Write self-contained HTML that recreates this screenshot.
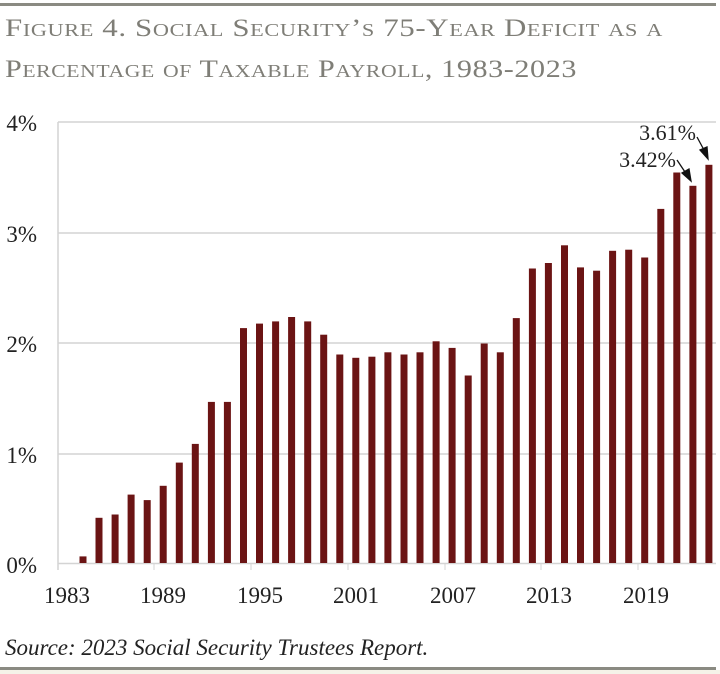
<!DOCTYPE html>
<html><head><meta charset="utf-8"><style>
html,body{margin:0;padding:0;background:#fff;}
svg{display:block;}
</style></head><body>
<svg width="720" height="674" viewBox="0 0 720 674" xmlns="http://www.w3.org/2000/svg">
<rect x="0" y="0" width="720" height="674" fill="#fff"/>
<rect x="0" y="3" width="716" height="3" fill="#8a8a82"/>
<g font-family="Liberation Serif, serif" fill="#7f7e77" font-size="25" style="font-variant:small-caps;letter-spacing:0.5px">
<text x="5" y="36" textLength="658" lengthAdjust="spacingAndGlyphs">Figure 4. Social Security’s 75-Year Deficit as a</text>
<text x="5" y="77" textLength="572" lengthAdjust="spacingAndGlyphs">Percentage of Taxable Payroll, 1983-2023</text>
</g>
<g stroke="#d4d4d4" stroke-width="1.5">
<line x1="58" y1="122" x2="716" y2="122"/>
<line x1="58" y1="233" x2="716" y2="233"/>
<line x1="58" y1="343" x2="716" y2="343"/>
<line x1="58" y1="454" x2="716" y2="454"/>
<line x1="58" y1="563.5" x2="716" y2="563.5"/>
<line x1="58" y1="122" x2="58" y2="570"/>
</g>
<g stroke="#d4d4d4" stroke-width="1">
<line x1="154" y1="563" x2="154" y2="570"/><line x1="251" y1="563" x2="251" y2="570"/>
<line x1="348" y1="563" x2="348" y2="570"/><line x1="445" y1="563" x2="445" y2="570"/>
<line x1="541" y1="563" x2="541" y2="570"/><line x1="638" y1="563" x2="638" y2="570"/>
</g>
<g font-family="Liberation Serif, serif" font-size="23" fill="#222" text-anchor="end">
<text x="37" y="131">4%</text><text x="37" y="242">3%</text><text x="37" y="352">2%</text><text x="37" y="463">1%</text><text x="37" y="573">0%</text>
</g>
<g font-family="Liberation Serif, serif" font-size="23" fill="#222" text-anchor="middle">
<text x="67" y="603">1983</text><text x="163" y="603">1989</text><text x="260" y="603">1995</text><text x="356" y="603">2001</text><text x="453" y="603">2007</text><text x="549" y="603">2013</text><text x="646" y="603">2019</text>
</g>
<g fill="#6b1414">
<rect x="79.5" y="556.4" width="7" height="6.6"/>
<rect x="95.5" y="517.8" width="7" height="45.2"/>
<rect x="111.6" y="514.5" width="7" height="48.5"/>
<rect x="127.6" y="494.6" width="7" height="68.4"/>
<rect x="143.7" y="500.1" width="7" height="62.9"/>
<rect x="159.7" y="485.8" width="7" height="77.2"/>
<rect x="175.8" y="462.6" width="7" height="100.4"/>
<rect x="191.8" y="443.9" width="7" height="119.1"/>
<rect x="207.9" y="401.9" width="7" height="161.1"/>
<rect x="223.9" y="401.9" width="7" height="161.1"/>
<rect x="240.0" y="328.1" width="7" height="234.9"/>
<rect x="256.0" y="323.6" width="7" height="239.4"/>
<rect x="272.1" y="321.4" width="7" height="241.6"/>
<rect x="288.1" y="317.0" width="7" height="246.0"/>
<rect x="304.2" y="321.4" width="7" height="241.6"/>
<rect x="320.2" y="334.7" width="7" height="228.3"/>
<rect x="336.3" y="354.5" width="7" height="208.5"/>
<rect x="352.3" y="357.8" width="7" height="205.2"/>
<rect x="368.4" y="356.7" width="7" height="206.3"/>
<rect x="384.4" y="352.3" width="7" height="210.7"/>
<rect x="400.5" y="354.5" width="7" height="208.5"/>
<rect x="416.5" y="352.3" width="7" height="210.7"/>
<rect x="432.6" y="341.3" width="7" height="221.7"/>
<rect x="448.6" y="347.9" width="7" height="215.1"/>
<rect x="464.7" y="375.5" width="7" height="187.5"/>
<rect x="480.7" y="343.5" width="7" height="219.5"/>
<rect x="496.8" y="352.3" width="7" height="210.7"/>
<rect x="512.8" y="318.1" width="7" height="244.9"/>
<rect x="528.9" y="268.5" width="7" height="294.5"/>
<rect x="544.9" y="263.0" width="7" height="300.0"/>
<rect x="561.0" y="245.3" width="7" height="317.7"/>
<rect x="577.0" y="267.4" width="7" height="295.6"/>
<rect x="593.1" y="270.7" width="7" height="292.3"/>
<rect x="609.1" y="250.8" width="7" height="312.2"/>
<rect x="625.2" y="249.7" width="7" height="313.3"/>
<rect x="641.2" y="257.5" width="7" height="305.5"/>
<rect x="657.3" y="208.9" width="7" height="354.1"/>
<rect x="673.3" y="172.5" width="7" height="390.5"/>
<rect x="689.4" y="185.8" width="7" height="377.2"/>
<rect x="705.4" y="164.8" width="7" height="398.2"/>
</g>
<g font-family="Liberation Serif, serif" font-size="22" fill="#222" text-anchor="end">
<text x="696" y="140">3.61%</text><text x="676" y="167">3.42%</text>
</g>
<g stroke="#111" stroke-width="1.3" fill="#111">
<line x1="697" y1="137" x2="704" y2="150"/><polygon points="708,159 700,150 707,147"/>
<line x1="677" y1="160" x2="685" y2="172"/><polygon points="691,181 682,173 689,169"/>
</g>
<text x="5" y="655" font-family="Liberation Serif, serif" font-style="italic" font-size="23" fill="#222">Source: 2023 Social Security Trustees Report.</text>
<rect x="0" y="667" width="716" height="3" fill="#8a8a82"/>
<rect x="0" y="670" width="720" height="4" fill="#f5f2e8"/>
</svg>
</body></html>
